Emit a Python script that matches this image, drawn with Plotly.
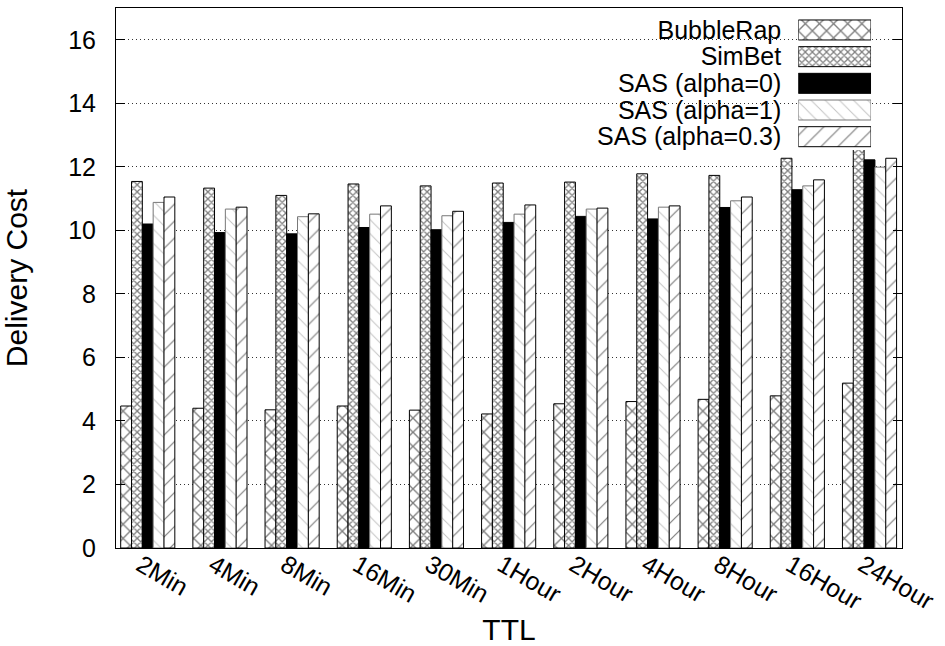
import plotly.graph_objects as go

categories = ["2Min", "4Min", "8Min", "16Min", "30Min", "1Hour", "2Hour", "4Hour", "8Hour", "16Hour", "24Hour"]
series_names = ["BubbleRap", "SimBet", "SAS (alpha=0)", "SAS (alpha=1)", "SAS (alpha=0.3)"]

bubblerap = [4.47, 4.40, 4.35, 4.47, 4.34, 4.22, 4.54, 4.61, 4.68, 4.79, 5.19]
simbet = [11.54, 11.33, 11.10, 11.46, 11.40, 11.49, 11.52, 11.78, 11.73, 12.27, 12.75]
sas_a0 = [10.20, 9.93, 9.89, 10.09, 10.02, 10.25, 10.44, 10.36, 10.72, 11.28, 12.22]
sas_a1 = [10.88, 10.67, 10.43, 10.51, 10.46, 10.51, 10.67, 10.73, 10.93, 11.40, 11.99]
sas_a03 = [11.05, 10.73, 10.52, 10.77, 10.60, 10.80, 10.70, 10.77, 11.05, 11.59, 12.27]

values = [bubblerap, simbet, sas_a0, sas_a1, sas_a03]

FONT = "Liberation Sans"
FS = 25

styles = [
    dict(color="white", line=dict(color="black", width=1),
         pattern=dict(shape="x", fgcolor="black", bgcolor="white", size=10, solidity=0.25, fillmode="overlay")),
    dict(color="white", line=dict(color="black", width=1),
         pattern=dict(shape="x", fgcolor="black", bgcolor="white", size=5, solidity=0.45, fillmode="overlay")),
    dict(color="black", line=dict(color="black", width=1)),
    dict(color="white", line=dict(color="#777777", width=1),
         pattern=dict(shape="\\", fgcolor="#888888", bgcolor="white", size=10, solidity=0.1, fillmode="overlay")),
    dict(color="white", line=dict(color="black", width=1),
         pattern=dict(shape="/", fgcolor="black", bgcolor="white", size=12, solidity=0.1, fillmode="overlay")),
]

fig = go.Figure()
for name, vals, st in zip(series_names, values, styles):
    fig.add_trace(go.Bar(x=categories, y=vals, name=name, marker=st,
                         showlegend=False, xaxis="x", yaxis="y"))

# legend swatches drawn as a small horizontal-bar key panel
KEY_LEN = 1
for name, st in zip(series_names, styles):
    fig.add_trace(go.Bar(y=[name], x=[KEY_LEN], orientation="h", marker=st,
                         showlegend=False, xaxis="x2", yaxis="y2", hoverinfo="skip"))

fig.update_layout(
    width=945, height=646,
    margin=dict(l=116, r=43, t=8, b=98),
    paper_bgcolor="white", plot_bgcolor="white",
    font=dict(family=FONT, size=FS, color="black"),
    barmode="group", bargap=0.25, bargroupgap=0,
    xaxis=dict(
        type="category", categoryorder="array", categoryarray=categories,
        range=[-0.44, 10.45], showline=True, linecolor="black", linewidth=1,
        mirror=True, ticks="", tickangle=30, showgrid=False, automargin=False,
        ticklabelstandoff=-8, ticklabelshift=-7,
        title=dict(text="TTL", standoff=10), tickfont=dict(size=FS),
    ),
    yaxis=dict(
        range=[0, 17], dtick=2, tick0=0, showline=True, linecolor="black", linewidth=1,
        mirror="allticks", ticks="inside", ticklen=9, tickcolor="black",
        showgrid=True, gridcolor="#333333", griddash="1px,3px", gridwidth=1,
        zeroline=False, ticklabelstandoff=14, automargin=False,
        title=dict(text="Delivery Cost", standoff=31), tickfont=dict(size=FS),
    ),
    xaxis2=dict(domain=[0.868, 0.9606], anchor="y2", range=[0, KEY_LEN], automargin=False,
                showgrid=False, showticklabels=False, zeroline=False, showline=False, fixedrange=True),
    yaxis2=dict(domain=[0.737, 0.984], anchor="x2", type="category", automargin=False,
                categoryorder="array", categoryarray=series_names, autorange="reversed",
                tickmode="array", tickvals=series_names, ticktext=series_names,
                showgrid=False, zeroline=False, showline=False, ticks="",
                ticklabelstandoff=16, tickfont=dict(size=FS)),
    shapes=[dict(type="rect", xref="paper", yref="paper", x0=0.539, x1=0.975, y0=0.728, y1=1.0,
                 fillcolor="white", line=dict(width=0), layer="between")],
)

fig.write_html("out.html", config={"displayModeBar": False},
               post_script="document.body.style.margin='0';document.body.style.padding='0';")
